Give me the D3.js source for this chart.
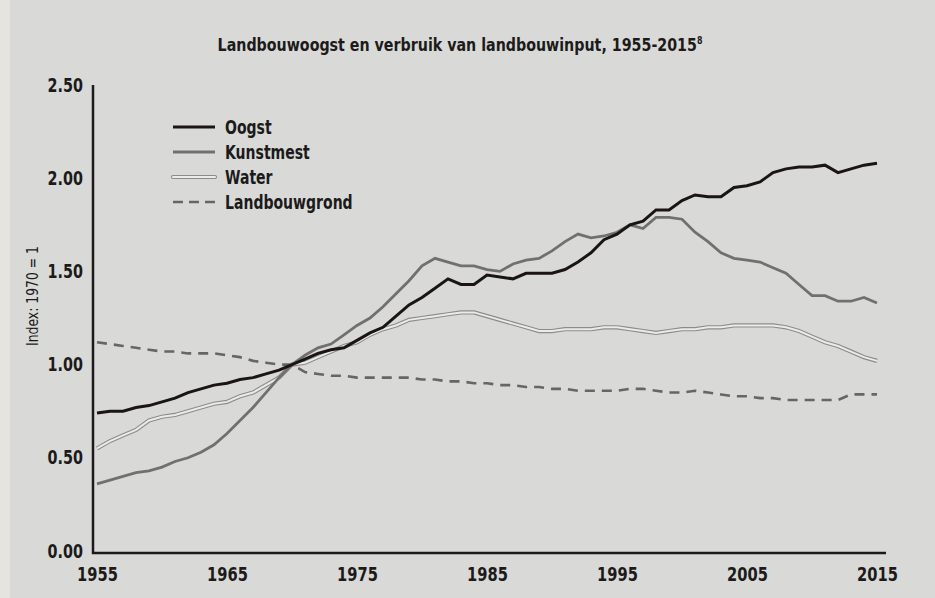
<!DOCTYPE html>
<html>
<head>
<meta charset="utf-8">
<script src="https://cdn.jsdelivr.net/npm/d3@7"></script>
<style>
  html, body { margin: 0; padding: 0; background: #d9dad8; }
  svg { display: block; }
  text { font-family: "DejaVu Sans Condensed", "Liberation Sans Narrow", sans-serif; fill: #1c1a1a; }
</style>
</head>
<body>
<svg id="chart"></svg>
<script>
const years = d3.range(1955, 2016);

const oogst = [0.74, 0.75, 0.75, 0.77, 0.78, 0.80, 0.82, 0.85, 0.87, 0.89,
  0.90, 0.92, 0.93, 0.95, 0.97, 1.00, 1.03, 1.06, 1.08, 1.09,
  1.13, 1.17, 1.20, 1.26, 1.32, 1.36, 1.41, 1.46, 1.43, 1.43,
  1.48, 1.47, 1.46, 1.49, 1.49, 1.49, 1.51, 1.55, 1.60, 1.67,
  1.70, 1.75, 1.77, 1.83, 1.83, 1.88, 1.91, 1.90, 1.90, 1.95,
  1.96, 1.98, 2.03, 2.05, 2.06, 2.06, 2.07, 2.03, 2.05, 2.07, 2.08];

const kunstmest = [0.36, 0.38, 0.40, 0.42, 0.43, 0.45, 0.48, 0.50, 0.53, 0.57,
  0.63, 0.70, 0.77, 0.85, 0.93, 1.00, 1.05, 1.09, 1.11, 1.16,
  1.21, 1.25, 1.31, 1.38, 1.45, 1.53, 1.57, 1.55, 1.53, 1.53,
  1.51, 1.50, 1.54, 1.56, 1.57, 1.61, 1.66, 1.70, 1.68, 1.69,
  1.71, 1.75, 1.73, 1.79, 1.79, 1.78, 1.71, 1.66, 1.60, 1.57,
  1.56, 1.55, 1.52, 1.49, 1.43, 1.37, 1.37, 1.34, 1.34, 1.36, 1.33];

const water = [0.55, 0.59, 0.62, 0.65, 0.70, 0.72, 0.73, 0.75, 0.77, 0.79,
  0.80, 0.83, 0.85, 0.89, 0.93, 1.00, 1.01, 1.04, 1.07, 1.10,
  1.12, 1.16, 1.19, 1.21, 1.24, 1.25, 1.26, 1.27, 1.28, 1.28,
  1.26, 1.24, 1.22, 1.20, 1.18, 1.18, 1.19, 1.19, 1.19, 1.20,
  1.20, 1.19, 1.18, 1.17, 1.18, 1.19, 1.19, 1.20, 1.20, 1.21,
  1.21, 1.21, 1.21, 1.20, 1.18, 1.15, 1.12, 1.10, 1.07, 1.04, 1.02];

const landbouwgrond = [1.12, 1.11, 1.10, 1.09, 1.08, 1.07, 1.07, 1.06, 1.06, 1.06,
  1.05, 1.04, 1.02, 1.01, 1.00, 1.00, 0.96, 0.95, 0.94, 0.94,
  0.93, 0.93, 0.93, 0.93, 0.93, 0.92, 0.92, 0.91, 0.91, 0.90,
  0.90, 0.89, 0.89, 0.88, 0.88, 0.87, 0.87, 0.86, 0.86, 0.86,
  0.86, 0.87, 0.87, 0.86, 0.85, 0.85, 0.86, 0.85, 0.84, 0.83,
  0.83, 0.82, 0.82, 0.81, 0.81, 0.81, 0.81, 0.81, 0.84, 0.84, 0.84];

const xTicks = [1955, 1965, 1975, 1985, 1995, 2005, 2015];
const yTicks = [0, 0.5, 1, 1.5, 2, 2.5];

const width = 935, height = 598;
const svg = d3.select("#chart").attr("width", width).attr("height", height);

// lichte rand links van de foto
svg.append("rect").attr("x", 0).attr("y", 0).attr("width", 10).attr("height", height).attr("fill", "#e6e4df");

const x = d3.scaleLinear().domain([1955, 2015]).range([97, 877]);
const y = d3.scaleLinear().domain([0, 2.5]).range([551, 85]);

// smalle letters: horizontaal samendrukken
const title = svg.append("text")
  .attr("transform", "translate(460,51) scale(0.88,1)")
  .attr("text-anchor", "middle")
  .style("font-size", "18px").style("font-weight", "bold")
  .text("Landbouwoogst en verbruik van landbouwinput, 1955-2015");
title.append("tspan").attr("dy", -7).style("font-size", "10px").text("8");

// assen
const yAxis = svg.append("g")
  .attr("transform", "translate(83,0)")
  .call(d3.axisLeft(y).tickValues(yTicks).tickSize(0).tickPadding(0).tickFormat(d3.format(".2f")));
yAxis.select(".domain").remove();
yAxis.selectAll("text").attr("transform", "scale(0.84,1)")
  .style("font-size", "19px").style("font-weight", "bold")
  .style("font-family", '"DejaVu Sans Condensed", sans-serif');

const xAxis = svg.append("g")
  .attr("transform", "translate(0,566)")
  .call(d3.axisBottom(x).tickValues(xTicks).tickSize(0).tickPadding(0).tickFormat(d3.format("d")));
xAxis.select(".domain").remove();
xAxis.selectAll("text").attr("dy", "0.8em").attr("transform", "scale(0.86,1)")
  .style("font-size", "19px").style("font-weight", "bold")
  .style("font-family", '"DejaVu Sans Condensed", sans-serif');

svg.append("path")
  .attr("d", "M93,85 L93,553 L886,553")
  .attr("fill", "none").attr("stroke", "#1c1a1a").attr("stroke-width", 2.5);

svg.append("text")
  .attr("transform", "translate(38,296) rotate(-90) scale(0.92,1)")
  .attr("text-anchor", "middle")
  .style("font-size", "15px")
  .text("Index: 1970 = 1");

// lijnen
const line = d3.line().x((d, i) => x(years[i])).y(d => y(d));

svg.append("path").datum(landbouwgrond).attr("d", line)
  .attr("fill", "none").attr("stroke", "#666664").attr("stroke-width", 2.6)
  .attr("stroke-dasharray", "10,7");

svg.append("path").datum(water).attr("d", line)
  .attr("fill", "none").attr("stroke", "#8c8c8a").attr("stroke-width", 4.2);
svg.append("path").datum(water).attr("d", line)
  .attr("fill", "none").attr("stroke", "#ebebea").attr("stroke-width", 2);

svg.append("path").datum(kunstmest).attr("d", line)
  .attr("fill", "none").attr("stroke", "#707070").attr("stroke-width", 2.8);

svg.append("path").datum(oogst).attr("d", line)
  .attr("fill", "none").attr("stroke", "#1a1414").attr("stroke-width", 3);

// legenda
const legendItems = ["Oogst", "Kunstmest", "Water", "Landbouwgrond"];
const legend = svg.append("g");
legendItems.forEach((name, i) => {
  const ly = 127 + i * 25;
  if (name === "Oogst") {
    legend.append("line").attr("x1", 173).attr("x2", 215).attr("y1", ly).attr("y2", ly)
      .attr("stroke", "#1a1414").attr("stroke-width", 3);
  } else if (name === "Kunstmest") {
    legend.append("line").attr("x1", 173).attr("x2", 215).attr("y1", ly).attr("y2", ly)
      .attr("stroke", "#707070").attr("stroke-width", 2.8);
  } else if (name === "Water") {
    legend.append("line").attr("x1", 173).attr("x2", 215).attr("y1", ly).attr("y2", ly)
      .attr("stroke", "#8c8c8a").attr("stroke-width", 4.2).attr("stroke-linecap", "round");
    legend.append("line").attr("x1", 173).attr("x2", 215).attr("y1", ly).attr("y2", ly)
      .attr("stroke", "#ebebea").attr("stroke-width", 2).attr("stroke-linecap", "round");
  } else {
    legend.append("line").attr("x1", 173).attr("x2", 215).attr("y1", ly).attr("y2", ly)
      .attr("stroke", "#666664").attr("stroke-width", 2.6).attr("stroke-dasharray", "10,6");
  }
  legend.append("text").attr("transform", `translate(225,${ly}) scale(0.78,1)`).attr("dy", "0.36em")
    .style("font-size", "20px").style("font-weight", "bold").text(name);
});
</script>
</body>
</html>
